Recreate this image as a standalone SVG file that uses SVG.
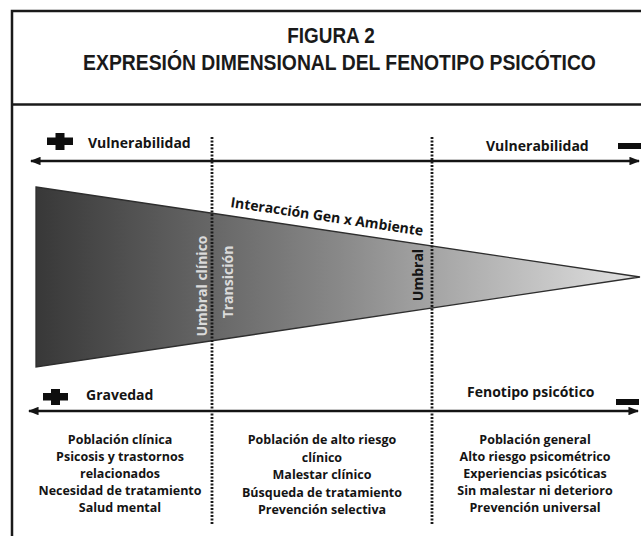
<svg xmlns="http://www.w3.org/2000/svg" width="641" height="536" viewBox="0 0 641 536">
<style>
.t{font-family:"Open Sans","Liberation Sans",sans-serif;font-weight:700;fill:#141414}
.lbl{font-size:14px}
.col{font-size:12.5px;text-anchor:middle}
.title{font-family:"Liberation Sans","DejaVu Sans",sans-serif;font-weight:700;font-size:21.5px;fill:#1a1a1a;text-anchor:middle}
.axis{stroke:#141414;stroke-width:2.5;fill:none}
.dot{stroke:#1a1a1a;stroke-width:2.8;stroke-dasharray:2 1.5;fill:none}
.sign{fill:#0e0e0e}
</style>
<defs>
<linearGradient id="wedge" x1="36" y1="0" x2="640" y2="0" gradientUnits="userSpaceOnUse">
<stop offset="0" stop-color="#383838"/>
<stop offset="0.5" stop-color="#888888"/>
<stop offset="1" stop-color="#e2e2e2"/>
</linearGradient>
<marker id="ah" viewBox="0 0 10 8" refX="9" refY="4" markerWidth="4.4" markerHeight="3.4" orient="auto-start-reverse" markerUnits="strokeWidth">
<path d="M0,0 L10,4 L0,8 z" fill="#141414"/>
</marker>
</defs>
<rect width="641" height="536" fill="#fff"/>
<g id="frame">
<path d="M641,11 H12 V536" fill="none" stroke="#1a1a1a" stroke-width="2.5"/>
<line x1="12" y1="104.5" x2="641" y2="104.5" stroke="#1a1a1a" stroke-width="2.5"/>
</g>
<g id="title">
<text class="title" transform="translate(331,43) scale(0.88,1)">FIGURA 2</text>
<text class="title" transform="translate(339.5,70) scale(0.9,1)">EXPRESIÓN DIMENSIONAL DEL FENOTIPO PSICÓTICO</text>
</g>
<g id="wedge-node">
<polygon points="36,187 640,277 36,367" fill="url(#wedge)" stroke="#2e2e2e" stroke-width="1.3"/>
</g>
<g id="connectors">
<line class="axis" x1="31" y1="161" x2="639" y2="161" marker-start="url(#ah)" marker-end="url(#ah)"/>
<line class="axis" x1="29" y1="411" x2="638" y2="411" marker-start="url(#ah)" marker-end="url(#ah)"/>
<line class="dot" x1="212" y1="137" x2="212" y2="525"/>
<line class="dot" x1="432" y1="137" x2="432" y2="525"/>
</g>
<g id="vuln-plus">
<rect class="sign" x="47" y="137.5" width="26" height="7.5"/>
<rect class="sign" x="55.5" y="133" width="9" height="17"/>
<text class="t lbl" x="88" y="148">Vulnerabilidad</text>
</g>
<g id="vuln-minus">
<text class="t lbl" x="486" y="151">Vulnerabilidad</text>
<rect class="sign" x="618" y="143" width="23" height="6"/>
</g>
<g id="gravedad-plus">
<rect class="sign" x="43" y="393" width="25" height="7.5"/>
<rect class="sign" x="51" y="389" width="9" height="16"/>
<text class="t lbl" x="86" y="400">Gravedad</text>
</g>
<g id="fenotipo-minus">
<text class="t lbl" x="467" y="397">Fenotipo psicótico</text>
<rect class="sign" x="616" y="399" width="23" height="6"/>
</g>
<g id="interaccion">
<text class="t lbl" transform="translate(230,207) rotate(8.5)">Interacción Gen x Ambiente</text>
</g>
<g id="umbral-clinico">
<text class="t lbl" transform="translate(207,286) rotate(-90)" text-anchor="middle" style="fill:#dadada">Umbral clínico</text>
</g>
<g id="transicion">
<text class="t lbl" transform="translate(233,282) rotate(-90)" text-anchor="middle" style="fill:#dadada">Transición</text>
</g>
<g id="umbral">
<text class="t lbl" transform="translate(423,275) rotate(-90)" text-anchor="middle">Umbral</text>
</g>
<g id="col-clinica">
<text class="t col" x="120" y="444">Población clínica</text>
<text class="t col" x="120" y="461">Psicosis y trastornos</text>
<text class="t col" x="120" y="478">relacionados</text>
<text class="t col" x="120" y="495">Necesidad de tratamiento</text>
<text class="t col" x="120" y="512">Salud mental</text>
</g>
<g id="col-alto-riesgo">
<text class="t col" x="322" y="444">Población de alto riesgo</text>
<text class="t col" x="322" y="461.5">clínico</text>
<text class="t col" x="322" y="479">Malestar clínico</text>
<text class="t col" x="322" y="496.5">Búsqueda de tratamiento</text>
<text class="t col" x="322" y="514">Prevención selectiva</text>
</g>
<g id="col-general">
<text class="t col" x="535" y="444">Población general</text>
<text class="t col" x="535" y="461">Alto riesgo psicométrico</text>
<text class="t col" x="535" y="478">Experiencias psicóticas</text>
<text class="t col" x="535" y="495">Sin malestar ni deterioro</text>
<text class="t col" x="535" y="512">Prevención universal</text>
</g>
</svg>
